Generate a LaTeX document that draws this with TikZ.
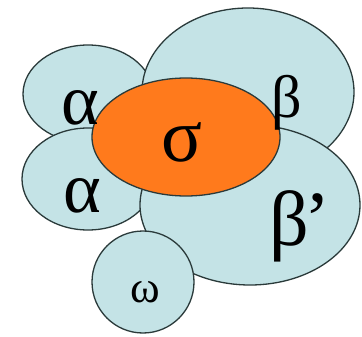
\documentclass[tikz,border=0pt]{standalone}
\usepackage{fontspec}
\setmainfont{Liberation Serif}
\definecolor{lb}{HTML}{C4E3E6}
\definecolor{org}{HTML}{FF7A1C}
\definecolor{edge}{HTML}{2A3A3A}
\begin{document}
\begin{tikzpicture}[x=1pt,y=-1pt,
  sub/.style={fill=lb,draw=edge,line width=1.3pt},
  core/.style={fill=org,draw=edge,line width=1.3pt},
  lbl/.style={inner sep=0pt,font=\fontsize{72}{72}\selectfont}]
\useasboundingbox[fill=white] (0,0) rectangle (362,337);
\draw[sub] (88,94) ellipse [x radius=65, y radius=49];
\draw[sub] (248,92) ellipse [x radius=106, y radius=84];
\draw[sub] (88,179) ellipse [x radius=66, y radius=51];
\draw[sub] (250,205) ellipse [x radius=110, y radius=80];
\draw[sub] (143,282) circle [radius=51];
\draw[core] (186,137) ellipse [x radius=94, y radius=59];
\node[lbl] (a1) at (80,108) {α};
\node[lbl] (a2) at (82,196) {α};
\node[lbl,font=\fontsize{60}{60}\selectfont] (b) at (287,103) {β};
\node[lbl,font=\fontsize{76}{76}\selectfont] (s) at (182,142) {σ};
\node[lbl,font=\fontsize{78}{78}\selectfont,anchor=west] (bp) at (269,226) {β\kern-4pt’};
\node[inner sep=0pt,font=\fontsize{45}{45}\selectfont] (w) at (145,292) {ω};
\end{tikzpicture}
\end{document}
